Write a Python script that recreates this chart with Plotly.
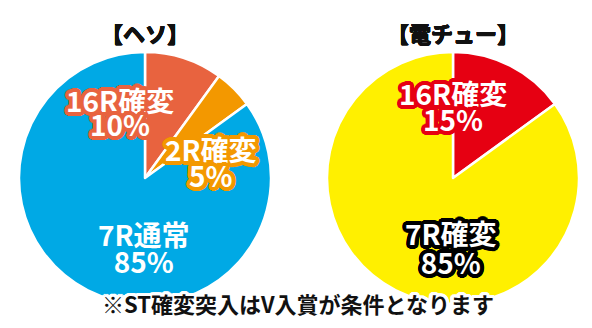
import math
import plotly.graph_objects as go

# ---- data ----
titles = ["【ヘソ】", "【電チュー】"]
heso_labels = ["16R確変", "2R確変", "7R通常"]
heso_values = [10, 5, 85]
heso_colors = ["#E8633F", "#F39800", "#00A9E5"]
heso_outline = ["#E8633F", "#F39800", None]

den_labels = ["16R確変", "7R確変"]
den_values = [15, 85]
den_colors = ["#E60012", "#FFF000"]
den_outline = ["#E60012", "#000000"]

note = "※ST確変突入はV入賞が条件となります"

W, H = 592, 328
FONT = "Noto Sans CJK JP, Noto Sans CJK SC, sans-serif"


def px(x, y):
    return x / W, 1 - y / H


def ring(color, r, n):
    return [f"{color} {r*math.cos(2*math.pi*k/n):.2f}px {r*math.sin(2*math.pi*k/n):.2f}px 0px"
            for k in range(n)]


def text_shadow(fill=None, stroke=None, thick=0.0, r=4):
    parts = []
    if fill is not None and thick > 0:
        parts += ring(fill, thick, 8)
    if stroke is not None:
        parts += ring(stroke, r / 2, 12) + ring(stroke, r, 24) + [f"{stroke} 0px 0px 1px"]
    return ", ".join(parts) if parts else "none"


fig = go.Figure()

# pie geometry (layout): center px and radius
pies = [
    dict(cx=145, cy=178, r=126, labels=heso_labels, values=heso_values, colors=heso_colors),
    dict(cx=453, cy=178, r=126, labels=den_labels, values=den_values, colors=den_colors),
]
for p in pies:
    x0, y1 = px(p["cx"] - p["r"], p["cy"] - p["r"])
    x1, y0 = px(p["cx"] + p["r"], p["cy"] + p["r"])
    fig.add_trace(go.Pie(
        labels=p["labels"], values=p["values"],
        marker=dict(colors=p["colors"], line=dict(color="white", width=2.5)),
        sort=False, direction="clockwise", rotation=0,
        textinfo="none", hoverinfo="label+percent",
        domain=dict(x=[x0, x1], y=[y0, y1]),
        showlegend=False,
    ))

annotations = []

# titles
for t, cx in zip(titles, [145, 453]):
    x, y = px(cx, 32)
    annotations.append(dict(text=t, x=x, y=y, xref="paper", yref="paper",
                            showarrow=False, xanchor="center", yanchor="middle",
                            font=dict(family=FONT, size=22, color="#111111", weight=700,
                                      shadow=text_shadow("#111111", thick=0.5))))

# slice labels: (label, value, outline color, center px, line spacing px)
label_pos = [
    (heso_labels[0], heso_values[0], heso_outline[0], (120, 112), 24),
    (heso_labels[1], heso_values[1], heso_outline[1], (211, 162), 26),
    (heso_labels[2], heso_values[2], heso_outline[2], (144, 247), 27),
    (den_labels[0], den_values[0], den_outline[0], (453, 106), 26),
    (den_labels[1], den_values[1], den_outline[1], (451, 247), 29),
]
GLYPH = 28
for lab, val, oc, pp, spacing in label_pos:
    x, y = px(*pp)
    txt = (f"<span style='font-size:{GLYPH}px'>{lab}</span><br>"
           f"<span style='font-size:{GLYPH}px'>{val}%</span>")
    annotations.append(dict(text=txt, x=x, y=y, xref="paper", yref="paper",
                            showarrow=False, xanchor="center", yanchor="middle",
                            font=dict(family=FONT, size=spacing / 1.3, color="white", weight=700,
                                      shadow=text_shadow(stroke=oc, r=4))))

# footnote
x, y = px(298, 303)
annotations.append(dict(text=note, x=x, y=y, xref="paper", yref="paper",
                        showarrow=False, xanchor="center", yanchor="middle",
                        font=dict(family=FONT, size=22, color="#111111", weight=700,
                                  shadow=text_shadow(stroke="white", r=3.5))))

fig.update_layout(
    width=W, height=H,
    margin=dict(l=0, r=0, t=0, b=0),
    paper_bgcolor="white", plot_bgcolor="white",
    annotations=annotations,
)

fig.write_html("out.html")
